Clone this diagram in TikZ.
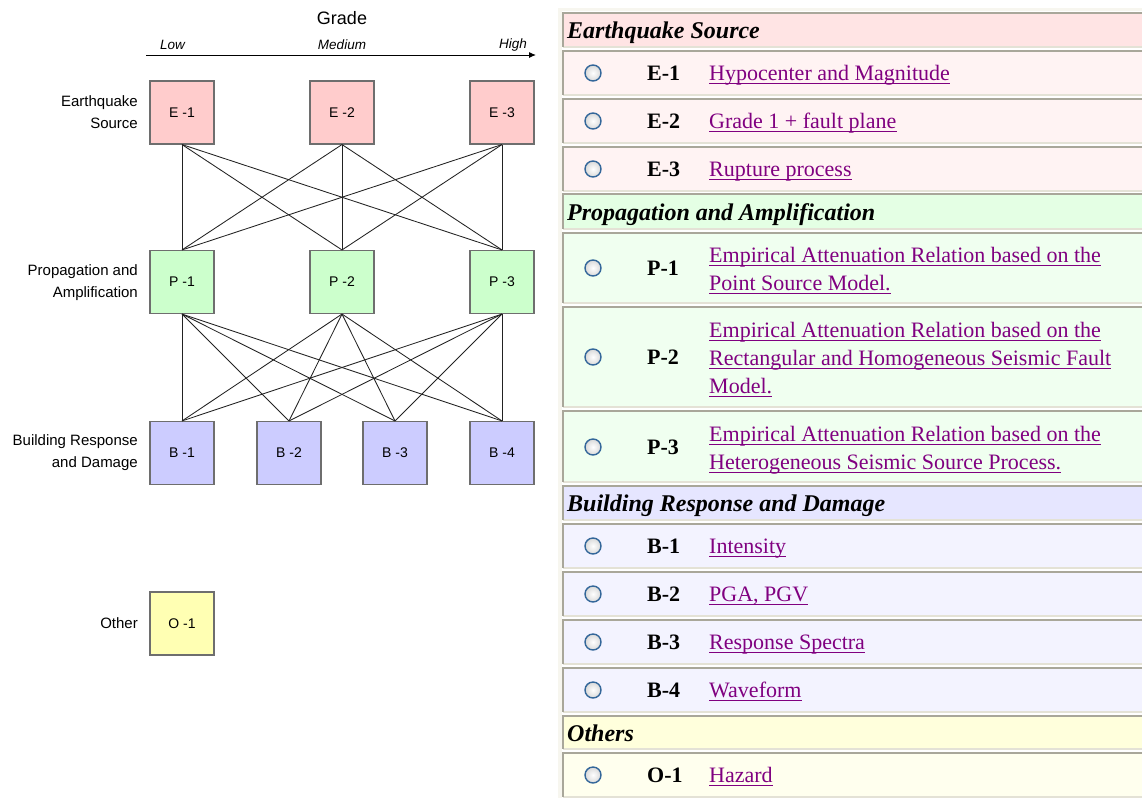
\documentclass[tikz,border=0pt]{standalone}
\usepackage{fontspec}
\setmainfont{Liberation Serif}
\newfontfamily\sfarial{Liberation Sans}
\usetikzlibrary{arrows.meta}

\definecolor{eBox}{HTML}{FFCCCC}
\definecolor{pBox}{HTML}{CCFFCC}
\definecolor{bBox}{HTML}{CCCCFF}
\definecolor{oBox}{HTML}{FFFFB3}
\definecolor{boxLine}{HTML}{6E6E6E}
\definecolor{eHead}{HTML}{FFE4E4}
\definecolor{eRow}{HTML}{FFF3F3}
\definecolor{pHead}{HTML}{E4FFE4}
\definecolor{pRow}{HTML}{F0FFF0}
\definecolor{bHead}{HTML}{E6E6FF}
\definecolor{bRow}{HTML}{F3F3FF}
\definecolor{oHead}{HTML}{FFFFDC}
\definecolor{oRow}{HTML}{FFFFEE}
\definecolor{linkCol}{HTML}{800080}
\definecolor{bevDark}{HTML}{A9A79A}
\definecolor{bevLight}{HTML}{E4E2D6}
\definecolor{panelBg}{HTML}{F7F6EF}
\definecolor{radioBlue}{HTML}{34679A}
\definecolor{connCol}{HTML}{222222}

\newcommand\panelrow[3]{%
  \fill[#1] (563,#2) rectangle (1142,#3);
  \draw[bevLight, line width=1.5pt] (563,#3) -- (1142,#3);
  \draw[bevDark, line width=2pt] (563,#3) -- (563,#2) -- (1142,#2);
}
\newcommand\radiobtn[1]{%
  \shadedraw[inner color=white, outer color=black!15, draw=radioBlue, line width=1.4pt] (593,#1) circle (8pt);
}
% name, baseline y, text
\newcommand\linkline[3]{%
  \node[linktext] (#1) at (709,#2) {#3};
  \draw[linkCol, line width=1.2pt] ([yshift=-3.5pt]#1.base west) -- ([yshift=-3.5pt]#1.base east);
}

\begin{document}
\begin{tikzpicture}[x=1pt, y=-1pt,
  gbox/.style={draw=boxLine, line width=1.1pt, minimum width=64pt, minimum height=63pt, inner sep=0pt,
    font=\sfarial\fontsize{14}{16}\selectfont},
  rowlabel/.style={anchor=east, align=right, inner sep=0pt, font=\sfarial\fontsize{15}{22}\selectfont},
  gradelabel/.style={inner sep=0pt, font=\sfarial\itshape\fontsize{13.5}{16}\selectfont},
  conn/.style={draw=connCol, line width=0.85pt},
  headtext/.style={anchor=base west, inner sep=0pt, font=\bfseries\itshape\fontsize{24}{28}\selectfont},
  codetext/.style={anchor=west, inner sep=0pt, font=\bfseries\fontsize{22}{28}\selectfont},
  linktext/.style={anchor=base west, inner sep=0pt, text=linkCol, font=\fontsize{22}{28}\selectfont}
]
\useasboundingbox (0,0) rectangle (1142,798);
\fill[white] (0,0) rectangle (1142,798);

% ---------- left diagram ----------
\node[inner sep=0pt, font=\sfarial\fontsize{18}{20}\selectfont] (grade) at (342,18) {Grade};
\coordinate (ax0) at (146,55);
\coordinate (ax1) at (536,55);
\draw[line width=1pt, -{Latex[length=7pt,width=6pt]}] (ax0) -- (ax1);
\node[gradelabel, anchor=west] (low) at (160,45) {Low};
\node[gradelabel] (med) at (342,45) {Medium};
\node[gradelabel, anchor=east] (high) at (527,45) {High};

\node[rowlabel] (lE) at (138,112) {Earthquake\\Source};
\node[rowlabel] (lP) at (138,283) {Propagation and\\Amplification};
\node[rowlabel] (lB) at (138,453) {Building Response\\and Damage};
\node[rowlabel] (lO) at (138,623) {Other};

\node[gbox, fill=eBox] (E1) at (182,112.5) {E -1};
\node[gbox, fill=eBox] (E2) at (342,112.5) {E -2};
\node[gbox, fill=eBox] (E3) at (502,112.5) {E -3};
\node[gbox, fill=pBox] (P1) at (182,282) {P -1};
\node[gbox, fill=pBox] (P2) at (342,282) {P -2};
\node[gbox, fill=pBox] (P3) at (502,282) {P -3};
\node[gbox, fill=bBox] (B1) at (182,453) {B -1};
\node[gbox, fill=bBox] (B2) at (289,453) {B -2};
\node[gbox, fill=bBox] (B3) at (395,453) {B -3};
\node[gbox, fill=bBox] (B4) at (502,453) {B -4};
\node[gbox, fill=oBox] (O1) at (182,623.5) {O -1};

\foreach \a in {1,2,3}{
  \foreach \b in {1,2,3}{
    \draw[conn] (E\a.south) -- (P\b.north);
  }
  \foreach \b in {1,2,3,4}{
    \draw[conn] (P\a.south) -- (B\b.north);
  }
}

% ---------- right panel ----------
\fill[panelBg] (558,8) rectangle (1142,798);
\fill[white] (562,11) rectangle (1142,798);

\panelrow{eHead}{13}{47}
\panelrow{eRow}{51}{95}
\panelrow{eRow}{99}{143}
\panelrow{eRow}{147}{191}
\panelrow{pHead}{194}{229}
\panelrow{pRow}{233}{303}
\panelrow{pRow}{307}{407}
\panelrow{pRow}{411}{482}
\panelrow{bHead}{486}{520}
\panelrow{bRow}{524}{568}
\panelrow{bRow}{572}{616}
\panelrow{bRow}{620}{664}
\panelrow{bRow}{668}{712}
\panelrow{oHead}{716}{749}
\panelrow{oRow}{753}{797}

\node[headtext] (hE) at (567,38) {Earthquake Source};
\node[headtext] (hP) at (567,220) {Propagation and Amplification};
\node[headtext] (hB) at (567,511) {Building Response and Damage};
\node[headtext] (hO) at (567,741) {Others};

\radiobtn{73}\radiobtn{121}\radiobtn{169}
\radiobtn{268}\radiobtn{357}\radiobtn{447}
\radiobtn{546}\radiobtn{594}\radiobtn{642}\radiobtn{690}
\radiobtn{775}

\node[codetext] (cE1) at (647,73) {E-1};
\node[codetext] (cE2) at (647,121) {E-2};
\node[codetext] (cE3) at (647,169) {E-3};
\node[codetext] (cP1) at (647,268) {P-1};
\node[codetext] (cP2) at (647,357) {P-2};
\node[codetext] (cP3) at (647,447) {P-3};
\node[codetext] (cB1) at (647,546) {B-1};
\node[codetext] (cB2) at (647,594) {B-2};
\node[codetext] (cB3) at (647,642) {B-3};
\node[codetext] (cB4) at (647,690) {B-4};
\node[codetext] (cO1) at (647,775) {O-1};

\linkline{tE1}{80}{Hypocenter and Magnitude}
\linkline{tE2}{128}{Grade 1 + fault plane}
\linkline{tE3}{176}{Rupture process}
\linkline{tP1a}{262}{Empirical Attenuation Relation based on the}
\linkline{tP1b}{290}{Point Source Model.}
\linkline{tP2a}{337}{Empirical Attenuation Relation based on the}
\linkline{tP2b}{365}{Rectangular and Homogeneous Seismic Fault}
\linkline{tP2c}{393}{Model.}
\linkline{tP3a}{441}{Empirical Attenuation Relation based on the}
\linkline{tP3b}{469}{Heterogeneous Seismic Source Process.}
\linkline{tB1}{553}{Intensity}
\linkline{tB2}{601}{PGA, PGV}
\linkline{tB3}{649}{Response Spectra}
\linkline{tB4}{697}{Waveform}
\linkline{tO1}{782}{Hazard}
\end{tikzpicture}
\end{document}
